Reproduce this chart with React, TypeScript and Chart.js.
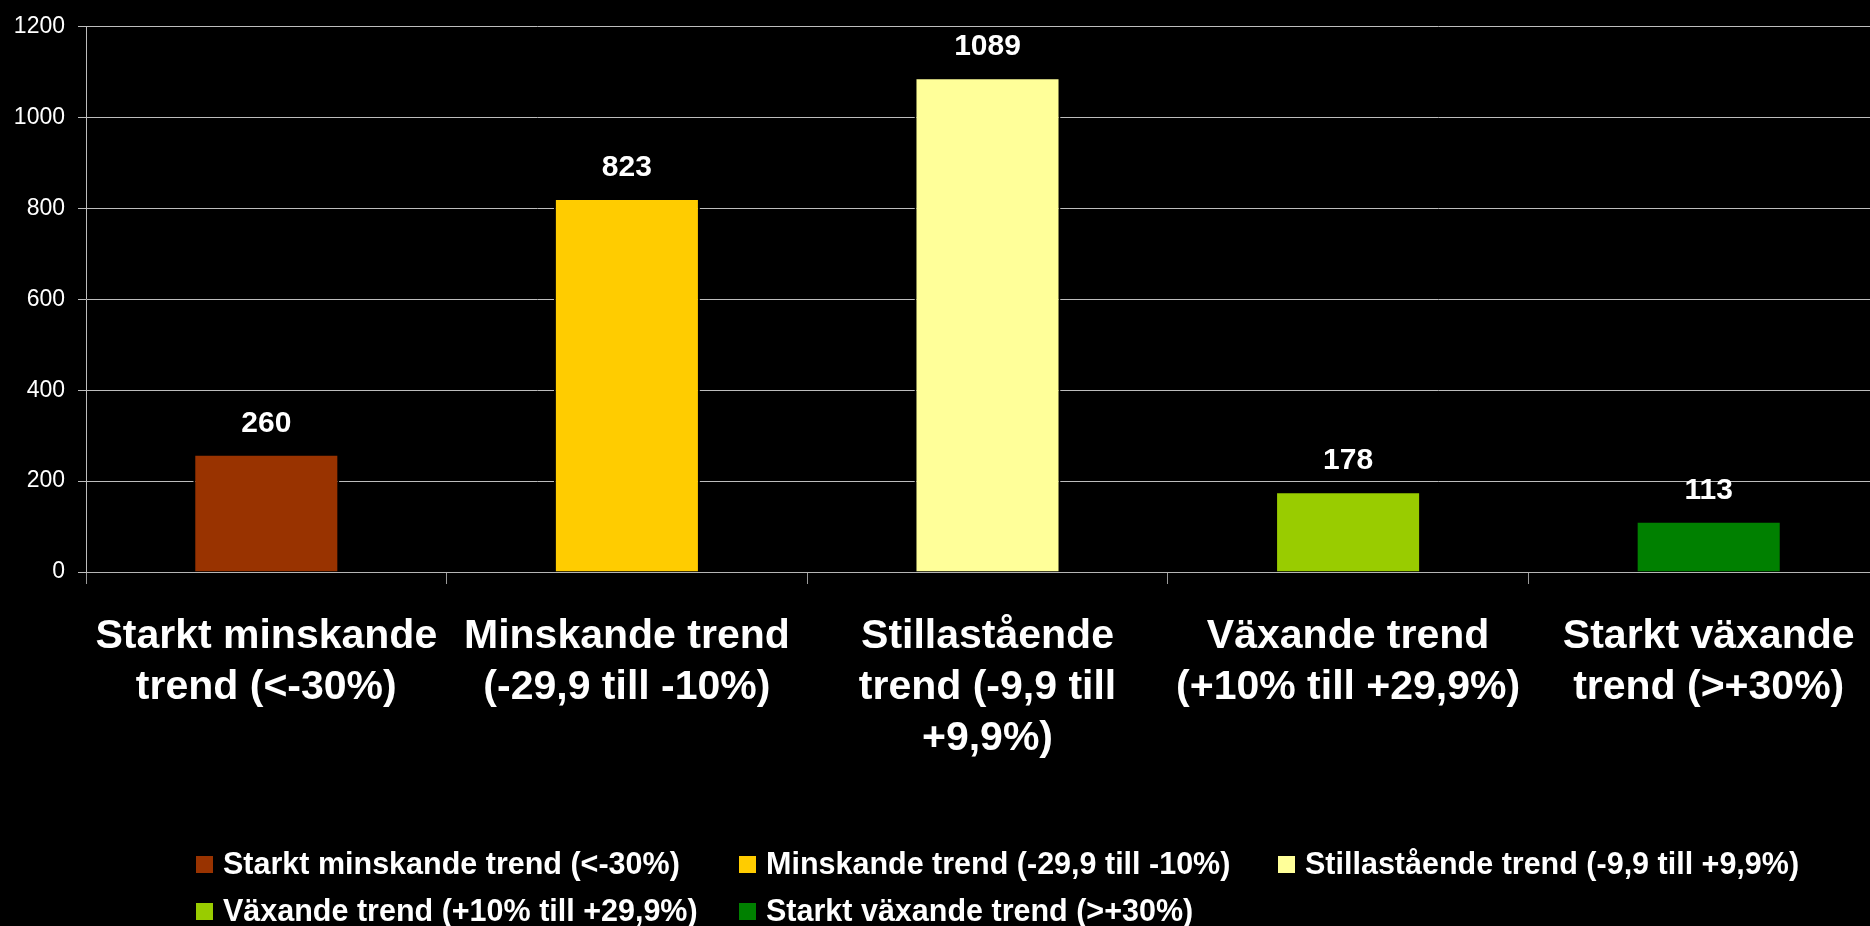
import { useEffect, useRef } from "react";
import { Chart, registerables } from "chart.js";

Chart.register(...registerables);

const categoryLines: string[][] = [
  ["Starkt minskande", "trend (<-30%)"],
  ["Minskande trend", "(-29,9 till -10%)"],
  ["Stillastående", "trend (-9,9 till", "+9,9%)"],
  ["Växande trend", "(+10% till +29,9%)"],
  ["Starkt växande", "trend (>+30%)"],
];

const legendLabels: string[] = [
  "Starkt minskande trend (<-30%)",
  "Minskande trend (-29,9 till -10%)",
  "Stillastående trend (-9,9 till +9,9%)",
  "Växande trend (+10% till +29,9%)",
  "Starkt växande trend (>+30%)",
];

const values: number[] = [260, 823, 1089, 178, 113];
const barColors: string[] = ["#993300", "#FFCC00", "#FFFF99", "#99CC00", "#008000"];
const yMin = 0;
const yMax = 1200;
const yStep = 200;

const FONT = "'Liberation Sans', Arial, Helvetica, sans-serif";

const valueLabelPlugin = {
  id: "valueLabels",
  afterDatasetsDraw(chart: any) {
    const ctx = chart.ctx;
    const meta = chart.getDatasetMeta(0);
    ctx.save();
    ctx.font = `bold 30px ${FONT}`;
    ctx.fillStyle = "#ffffff";
    ctx.textAlign = "center";
    ctx.textBaseline = "alphabetic";
    meta.data.forEach((bar: any, i: number) => {
      ctx.fillText(String(values[i]), bar.x, bar.y - 22);
    });
    ctx.restore();
  },
};

const gridLegendPlugin = {
  id: "gridLegend",
  afterDraw(chart: any) {
    const ctx = chart.ctx;
    const colX = [196, 739, 1278];
    const rowBase = [874, 921];
    const box = 17;
    ctx.save();
    ctx.font = `bold 30.5px ${FONT}`;
    ctx.textAlign = "left";
    ctx.textBaseline = "alphabetic";
    legendLabels.forEach((label, i) => {
      const col = i % 3;
      const row = Math.floor(i / 3);
      const x = colX[col];
      const base = rowBase[row];
      ctx.fillStyle = barColors[i];
      ctx.fillRect(x, base - box - 1, box, box);
      ctx.fillStyle = "#ffffff";
      ctx.fillText(label, x + box + 10, base);
    });
    ctx.restore();
  },
};

export default function App() {
  const canvasRef = useRef<HTMLCanvasElement | null>(null);

  useEffect(() => {
    document.body.style.margin = "0";
    document.body.style.background = "#000";
    document.body.style.overflow = "hidden";
    const canvas = canvasRef.current;
    if (!canvas) return;
    const chart = new Chart(canvas, {
      type: "bar",
      data: {
        labels: categoryLines,
        datasets: [
          {
            label: "Antal",
            data: values,
            backgroundColor: barColors,
            borderColor: "#000000",
            borderWidth: { top: 2, left: 2, right: 2, bottom: 0 },
            borderSkipped: "bottom",
            barPercentage: 0.405,
            categoryPercentage: 1,
          },
        ],
      },
      options: {
        animation: false,
        responsive: false,
        maintainAspectRatio: false,
        layout: { padding: { top: 24, right: 1, left: 0, bottom: 0 } },
        plugins: {
          legend: { display: false },
          tooltip: { enabled: false },
          title: { display: false },
        },
        scales: {
          x: {
            offset: true,
            grid: {
              display: true,
              offset: true,
              drawOnChartArea: false,
              drawTicks: true,
              tickLength: 12,
              color: "#9a9a9a",
              lineWidth: 1,
            },
            border: { display: true, color: "#b5b5b5", width: 1 },
            ticks: {
              color: "#ffffff",
              font: { family: FONT, size: 41, weight: "bold", lineHeight: 1.25 },
              padding: 27,
              maxRotation: 0,
              minRotation: 0,
              autoSkip: false,
            },
            afterFit(scale: any) {
              scale.height = 354;
            },
          },
          y: {
            min: yMin,
            max: yMax,
            ticks: {
              stepSize: yStep,
              color: "#ffffff",
              font: { family: FONT, size: 23, weight: "normal" },
              padding: 13,
              callback: (v: any) => String(v),
            },
            grid: {
              color: "#bdbdbd",
              lineWidth: 1,
              tickLength: 8,
              drawTicks: true,
            },
            border: { display: true, color: "#bdbdbd", width: 1 },
            afterFit(scale: any) {
              scale.width = 86;
            },
          },
        },
      },
      plugins: [valueLabelPlugin, gridLegendPlugin],
    });
    return () => chart.destroy();
  }, []);

  return (
    <div style={{ width: 1870, height: 926, background: "#000", overflow: "hidden" }}>
      <canvas
        ref={canvasRef}
        width={1890}
        height={926}
        style={{ display: "block", width: 1890, height: 926, background: "#000" }}
      />
    </div>
  );
}
